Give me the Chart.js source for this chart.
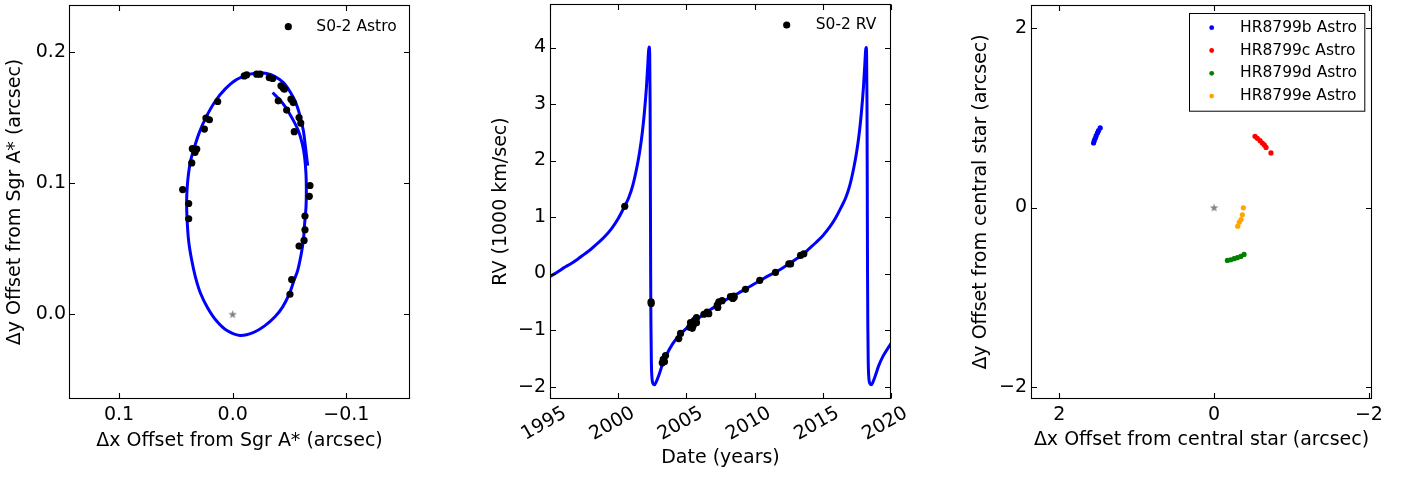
<!DOCTYPE html>
<html>
<head>
<meta charset="utf-8">
<script src="https://cdn.jsdelivr.net/npm/chart.js@4.4.0/dist/chart.umd.min.js"></script>
<style>
  body { margin: 0; background: #fff; }
  canvas { position: absolute; top: 0; }
</style>
</head>
<body>
<canvas id="astroChart" width="470" height="477" style="left:0px"></canvas>
<canvas id="rvChart" width="490" height="477" style="left:470px"></canvas>
<canvas id="hrChart" width="448" height="477" style="left:960px"></canvas>
<script>
// S0-2 astrometry, offsets from Sgr A* (arcsec)
const s02AstroX = [-0.0102, -0.0123, -0.0211, -0.0240, -0.0322, -0.0352, -0.0425, -0.0445, -0.0455, -0.0401,
  -0.0475, -0.0513, -0.0533, -0.0584, -0.0599, -0.0542, 0.0132, 0.0235, 0.0205, 0.0249,
  0.0355, 0.0316, 0.0331, 0.0360, 0.0440, 0.0387, 0.0387, -0.0680, -0.0674, -0.0636,
  -0.0636, -0.0628, -0.0584, -0.0519, -0.0504];
const s02AstroY = [0.1815, 0.1823, 0.1828, 0.1828, 0.1802, 0.1795, 0.1739, 0.1722, 0.1714, 0.1625,
  0.1555, 0.1638, 0.1612, 0.1498, 0.1456, 0.1390, 0.1620, 0.1494, 0.1481, 0.1410,
  0.1261, 0.1258, 0.1233, 0.1152, 0.0949, 0.0843, 0.0727, 0.0980, 0.0898, 0.0747,
  0.0643, 0.0562, 0.0519, 0.0264, 0.0152];

// model orbit (starts inside at top right, ends outside)
const s02OrbitX = [-0.0352, -0.0446, -0.0519, -0.0578, -0.0613, -0.0633, -0.0645, -0.0648, -0.0645, -0.0633,
  -0.0622, -0.0598, -0.0572, -0.0540, -0.0499, -0.0440, -0.0372, -0.0284, -0.0179, -0.0064,
  0.0050, 0.0147, 0.0221, 0.0283, 0.0327, 0.0362, 0.0388, 0.0402,
  0.0405, 0.0399, 0.0387, 0.0370, 0.0337, 0.0293, 0.0235, 0.0155, 0.0067, -0.0035,
  -0.0152, -0.0226, -0.0299, -0.0372, -0.0446, -0.0504, -0.0554, -0.0592, -0.0622, -0.0639,
  -0.0651, -0.0660];
const s02OrbitY = [0.1689, 0.1600, 0.1499, 0.1397, 0.1296, 0.1195, 0.1068, 0.0942, 0.0815, 0.0689,
  0.0562, 0.0435, 0.0334, 0.0258, 0.0157, 0.0056, -0.0020, -0.0087, -0.0141, -0.0162,
  -0.0125, -0.0046, 0.0049, 0.0159, 0.0281, 0.0418, 0.0562, 0.0739,
  0.0866, 0.0980, 0.1081, 0.1170, 0.1271, 0.1385, 0.1499, 0.1620, 0.1714, 0.1787,
  0.1828, 0.1838, 0.1833, 0.1810, 0.1765, 0.1696, 0.1613, 0.1511, 0.1397, 0.1284,
  0.1195, 0.1132];

// S0-2 radial velocities (1000 km/sec)
const s02RvYear = [2000.48, 2002.41, 2002.42, 2003.23, 2003.30, 2003.39, 2003.47, 2004.44, 2004.57, 2005.25,
  2005.30, 2005.43, 2005.50, 2005.59, 2005.74, 2005.74, 2006.28, 2006.52, 2006.64, 2007.26,
  2007.30, 2007.38, 2007.62, 2008.23, 2008.40, 2008.48, 2008.50, 2009.33, 2010.38, 2011.53,
  2012.51, 2012.64, 2013.37, 2013.61];
const s02RvValue = [1.19, -0.50, -0.53, -1.58, -1.52, -1.56, -1.45, -1.15, -1.06, -0.95,
  -0.87, -0.97, -0.92, -0.83, -0.78, -0.87, -0.72, -0.68, -0.71, -0.56,
  -0.60, -0.50, -0.48, -0.41, -0.44, -0.40, -0.42, -0.28, -0.12, 0.02,
  0.17, 0.17, 0.32, 0.35];

const rvModelYear = [1995.0, 1995.5, 1996.0, 1996.5, 1997.0, 1997.5, 1998.0, 1998.5, 1999.0, 1999.5,
  1999.97, 2000.47, 2000.77, 2001.07, 2001.37, 2001.57, 2001.77, 2001.92, 2002.07, 2002.17,
  2002.23, 2002.27, 2002.31, 2002.34, 2002.36, 2002.38, 2002.40, 2002.43, 2002.48, 2002.56,
  2002.66, 2002.78, 2002.98, 2003.23, 2003.5, 2004.0, 2004.5, 2005.0, 2005.5, 2006.0,
  2006.5, 2007.0, 2007.5, 2008.0, 2008.5, 2009.0, 2009.5, 2010.0, 2010.5, 2011.0,
  2011.5, 2012.0, 2012.5, 2013.0, 2013.5, 2014.0, 2014.5, 2015.0, 2015.5, 2015.88,
  2016.38, 2016.68, 2016.98, 2017.28, 2017.48, 2017.68, 2017.83, 2017.98, 2018.08, 2018.14,
  2018.18, 2018.21, 2018.24, 2018.26, 2018.28, 2018.30, 2018.33, 2018.38, 2018.46, 2018.56,
  2018.66, 2018.85, 2019.1, 2019.4, 2019.7, 2020.0];
const rvModelValue = [-0.05, 0.02, 0.10, 0.17, 0.25, 0.34, 0.43, 0.54, 0.65, 0.79,
  0.96, 1.19, 1.34, 1.56, 1.88, 2.15, 2.50, 2.85, 3.30, 3.70,
  3.95, 4.01, 3.88, 3.00, 1.50, 0.00, -0.90, -1.55, -1.86, -1.95,
  -1.97, -1.92, -1.80, -1.62, -1.46, -1.24, -1.09, -0.97, -0.86, -0.77,
  -0.68, -0.60, -0.52, -0.45, -0.39, -0.32, -0.25, -0.18, -0.11, -0.04,
  0.02, 0.09, 0.17, 0.25, 0.33, 0.44, 0.55, 0.67, 0.82, 0.96,
  1.19, 1.34, 1.56, 1.88, 2.15, 2.50, 2.85, 3.30, 3.70, 3.95,
  4.00, 3.88, 3.00, 1.50, 0.00, -0.90, -1.55, -1.86, -1.95, -1.97,
  -1.93, -1.81, -1.63, -1.47, -1.35, -1.24];

// HR 8799 planets, offsets from the star (arcsec)
const hrbX = [1.557, 1.548, 1.535, 1.523, 1.506, 1.493, 1.471];
const hrbY = [0.720, 0.746, 0.772, 0.802, 0.832, 0.857, 0.888];
const hrcX = [-0.529, -0.559, -0.594, -0.623, -0.649, -0.671, -0.735];
const hrcY = [0.794, 0.772, 0.746, 0.720, 0.698, 0.671, 0.609];
const hrdX = [-0.172, -0.215, -0.258, -0.301, -0.345, -0.387];
const hrdY = [-0.590, -0.583, -0.571, -0.560, -0.546, -0.523];
const hreX = [-0.378, -0.365, -0.348, -0.326, -0.306];
const hreY = [-0.003, -0.081, -0.134, -0.164, -0.208];

const starX = [0];
const starY = [0];

// tick positions and labels
const astroXTicks = [-0.1, 0, 0.1];
const astroXLabels = ['\u22120.1', '0.0', '0.1'];
const astroYTicks = [0, 0.1, 0.2];
const astroYLabels = ['0.0', '0.1', '0.2'];
const rvXTicks = [1995, 2000, 2005, 2010, 2015, 2020];
const rvXLabels = ['1995', '2000', '2005', '2010', '2015', '2020'];
const rvYTicks = [-2, -1, 0, 1, 2, 3, 4];
const rvYLabels = ['\u22122', '\u22121', '0', '1', '2', '3', '4'];
const hrTicks = [-2, 0, 2];
const hrLabels = ['\u22122', '0', '2'];

Chart.defaults.font.family = "'DejaVu Sans', sans-serif";
Chart.defaults.color = '#000';

const pts = (xs, ys) => xs.map((x, i) => ({ x: x, y: ys[i] }));

// gray star marker for the central object
function starMarker(size, color) {
  const c = document.createElement('canvas');
  c.width = c.height = size;
  const g = c.getContext('2d');
  g.fillStyle = color;
  g.beginPath();
  for (let i = 0; i < 10; i++) {
    const r = i % 2 ? size * 0.2 : size * 0.5;
    const a = -Math.PI / 2 + i * Math.PI / 5;
    g.lineTo(size / 2 + r * Math.cos(a), size / 2 + r * Math.sin(a) + size * 0.05);
  }
  g.closePath();
  g.fill();
  return c;
}
const starImg = starMarker(9, '#808080');

function makeAxis(o) {
  return {
    type: 'linear',
    min: o.min, max: o.max, reverse: !!o.reverse,
    grid: { display: false, drawTicks: false },
    border: { display: false },
    ticks: {
      padding: o.pad, color: '#000', font: { size: 19 }, autoSkip: false,
      minRotation: o.rot || 0, maxRotation: o.rot || 0,
      labelOffset: o.labelOffset || 0,
      callback: v => o.labels[o.ticks.indexOf(v)]
    },
    title: { display: true, text: o.title, color: '#000', font: { size: 19 }, padding: o.titlePad },
    afterBuildTicks: s => { s.ticks = o.ticks.map(v => ({ value: v })); },
    afterFit: s => {
      if (s.isHorizontal()) s.height = o.size; else s.width = o.size;
      s.paddingTop = s.paddingBottom = s.paddingLeft = s.paddingRight = 0;
    }
  };
}

// matplotlib-like box with inward ticks on all four sides
const frameTicks = {
  id: 'frameTicks',
  afterDatasetsDraw(chart) {
    const { ctx, chartArea: a, scales } = chart;
    const L = Math.round(a.left) + 0.5, R = Math.round(a.right) - 0.5;
    const T = Math.round(a.top) + 0.5, B = Math.round(a.bottom) - 0.5;
    ctx.save();
    ctx.strokeStyle = '#000';
    ctx.lineWidth = 1.1;
    ctx.strokeRect(L, T, R - L, B - T);
    ctx.beginPath();
    scales.x.ticks.forEach(t => {
      const px = Math.round(scales.x.getPixelForValue(t.value)) + 0.5;
      ctx.moveTo(px, B); ctx.lineTo(px, B - 5.5);
      ctx.moveTo(px, T); ctx.lineTo(px, T + 5.5);
    });
    scales.y.ticks.forEach(t => {
      const py = Math.round(scales.y.getPixelForValue(t.value)) + 0.5;
      ctx.moveTo(L, py); ctx.lineTo(L + 5.5, py);
      ctx.moveTo(R, py); ctx.lineTo(R - 5.5, py);
    });
    ctx.stroke();
    ctx.restore();
  }
};

// legend drawn inside the axes, like matplotlib
const innerLegend = {
  id: 'innerLegend',
  afterDraw(chart, args, o) {
    const { ctx, chartArea: a } = chart;
    const items = chart.data.datasets.filter(d => d.label);
    ctx.save();
    if (o.frame) {
      const fx = Math.round(a.right - o.frame.right - o.frame.width) + 0.5;
      const fy = Math.round(a.top + o.frame.top) + 0.5;
      ctx.fillStyle = '#fff';
      ctx.fillRect(fx, fy, o.frame.width, o.frame.height);
      ctx.strokeStyle = '#000';
      ctx.lineWidth = 1;
      ctx.strokeRect(fx, fy, o.frame.width, o.frame.height);
    }
    ctx.font = "15.5px 'DejaVu Sans'";
    ctx.textBaseline = 'middle';
    items.forEach((d, i) => {
      const mx = a.right + o.markerX;
      const my = a.top + o.firstRow + i * o.rowH;
      ctx.fillStyle = d.backgroundColor;
      ctx.beginPath();
      ctx.arc(mx, my, o.markerR, 0, Math.PI * 2);
      ctx.fill();
      ctx.fillStyle = '#000';
      ctx.fillText(d.label, mx + o.textGap, my);
    });
    ctx.restore();
  }
};

const common = {
  responsive: false,
  animation: false,
  devicePixelRatio: 1,
  events: []
};

// panel 1: S0-2 astrometry
new Chart(document.getElementById('astroChart'), {
  type: 'scatter',
  data: {
    datasets: [
      { label: 'S0-2 Astro', data: pts(s02AstroX, s02AstroY), backgroundColor: '#000', borderWidth: 0, pointRadius: 3.6, order: 0 },
      { data: pts(starX, starY), pointStyle: starImg, order: 0 },
      { data: pts(s02OrbitX, s02OrbitY), showLine: true, borderColor: '#0000ff', borderWidth: 3, pointRadius: 0, tension: 0.35, order: 1 }
    ]
  },
  options: Object.assign({}, common, {
    layout: { padding: { left: 0, right: 60, top: 4, bottom: 0 } },
    scales: {
      x: makeAxis({ min: -0.156, max: 0.144, reverse: true, ticks: astroXTicks, labels: astroXLabels, pad: 5, size: 78,
        title: '\u0394x Offset from Sgr A* (arcsec)', titlePad: { top: 0, bottom: 25 } }),
      y: makeAxis({ min: -0.0646, max: 0.2355, ticks: astroYTicks, labels: astroYLabels, pad: 3, size: 69,
        title: '\u0394y Offset from Sgr A* (arcsec)', titlePad: { top: 4, bottom: 0 } })
    },
    plugins: {
      legend: { display: false }, tooltip: { enabled: false },
      innerLegend: { markerX: -121.7, firstRow: 21.7, rowH: 22.8, markerR: 3.6, textGap: 28 }
    }
  }),
  plugins: [frameTicks, innerLegend]
});

// panel 2: S0-2 radial velocity
new Chart(document.getElementById('rvChart'), {
  type: 'scatter',
  data: {
    datasets: [
      { label: 'S0-2 RV', data: pts(s02RvYear, s02RvValue), backgroundColor: '#000', borderWidth: 0, pointRadius: 3.6, order: 0 },
      { data: pts(rvModelYear, rvModelValue), showLine: true, borderColor: '#0000ff', borderWidth: 3, pointRadius: 0,
        cubicInterpolationMode: 'monotone', order: 1 }
    ]
  },
  options: Object.assign({}, common, {
    layout: { padding: { left: 0, right: 69, top: 4, bottom: 0 } },
    scales: {
      x: makeAxis({ min: 1995, max: 2020, ticks: rvXTicks, labels: rvXLabels, pad: 3, size: 78, rot: 30, labelOffset: 15,
        title: 'Date (years)', titlePad: { top: 0, bottom: 8 } }),
      y: makeAxis({ min: -2.22, max: 4.77, ticks: rvYTicks, labels: rvYLabels, pad: 4, size: 80,
        title: 'RV (1000 km/sec)', titlePad: { top: 20, bottom: 0 } })
    },
    plugins: {
      legend: { display: false }, tooltip: { enabled: false },
      innerLegend: { markerX: -104.3, firstRow: 21, rowH: 22.8, markerR: 3.6, textGap: 29 }
    }
  }),
  plugins: [frameTicks, innerLegend]
});

// panel 3: HR 8799 planets
const hrDot = { borderWidth: 0, pointRadius: 2.6, order: 0 };
new Chart(document.getElementById('hrChart'), {
  type: 'scatter',
  data: {
    datasets: [
      Object.assign({ label: 'HR8799b Astro', data: pts(hrbX, hrbY), backgroundColor: '#0000ff' }, hrDot),
      Object.assign({ label: 'HR8799c Astro', data: pts(hrcX, hrcY), backgroundColor: '#ff0000' }, hrDot),
      Object.assign({ label: 'HR8799d Astro', data: pts(hrdX, hrdY), backgroundColor: '#008000' }, hrDot),
      Object.assign({ label: 'HR8799e Astro', data: pts(hreX, hreY), backgroundColor: '#ffa500' }, hrDot),
      { data: pts(starX, starY), pointStyle: starImg, order: 1 }
    ]
  },
  options: Object.assign({}, common, {
    layout: { padding: { left: 0, right: 36, top: 4, bottom: 0 } },
    scales: {
      x: makeAxis({ min: -2.04, max: 2.365, reverse: true, ticks: hrTicks, labels: hrLabels, pad: 5, size: 78,
        title: '\u0394x Offset from central star (arcsec)', titlePad: { top: 0, bottom: 26 } }),
      y: makeAxis({ min: -2.137, max: 2.26, ticks: hrTicks, labels: hrLabels, pad: 4, size: 71,
        title: '\u0394y Offset from central star (arcsec)', titlePad: { top: 10, bottom: 0 } })
    },
    plugins: {
      legend: { display: false }, tooltip: { enabled: false },
      innerLegend: { markerX: -160.3, firstRow: 22.7, rowH: 22.8, markerR: 2.4, textGap: 28.3,
        frame: { right: 7.7, width: 175.3, top: 8.3, height: 97.7 } }
    }
  }),
  plugins: [frameTicks, innerLegend]
});
</script>
</body>
</html>
